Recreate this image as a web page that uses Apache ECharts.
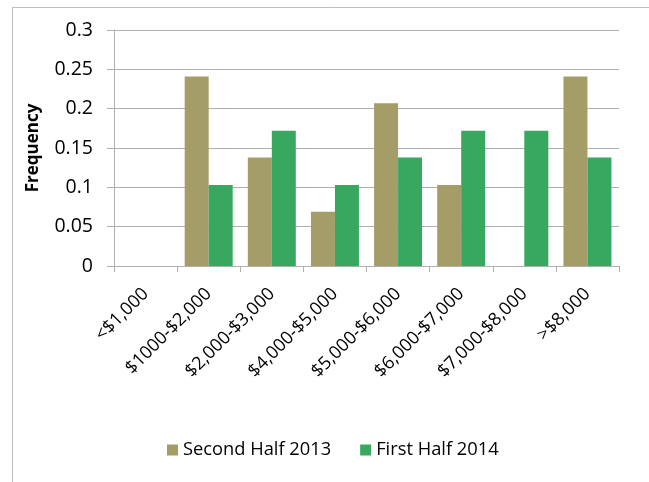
<!DOCTYPE html>
<html><head><meta charset="utf-8">
<script src="https://cdn.jsdelivr.net/npm/echarts@6/dist/echarts.min.js"></script>
<style>html,body{margin:0;padding:0;background:#fff}#c{width:649px;height:482px}</style>
</head><body><div id="c"></div>
<script>
const categories = ['<$1,000','$1000-$2,000','$2,000-$3,000','$4,000-$5,000','$5,000-$6,000','$6,000-$7,000','$7,000-$8,000','>$8,000'];
const secondHalf2013 = [0, 0.241, 0.138, 0.069, 0.207, 0.103, 0, 0.241];
const firstHalf2014 = [0, 0.103, 0.172, 0.103, 0.138, 0.172, 0.172, 0.138];
const yTicks = [0, 0.05, 0.1, 0.15, 0.2, 0.25, 0.3];

const font = 'Open Sans';
const chart = echarts.init(document.getElementById('c'));
chart.setOption({
  animation: false,
  textStyle: {fontFamily: font},
  graphic: [{type:'rect', shape:{x:12.5, y:7.5, width:700, height:600}, style:{fill:'none', stroke:'#bdbdbd', lineWidth:1}, silent:true}],
  grid: {left:114, right:30, top:30, bottom:216, containLabel:false},
  legend: {
    top: 441, left: 167, padding: 0,
    itemWidth: 11, itemHeight: 11, itemGap: 29,
    icon: 'rect',
    textStyle: {fontFamily: font, fontSize: 18.3, color:'#000', padding:[0,0,0,0]},
    data: ['Second Half 2013','First Half 2014']
  },
  xAxis: {
    type:'category', data: categories,
    axisLine:{lineStyle:{color:'#b0b0b0', width:1}},
    axisTick:{show:true, length:6, lineStyle:{color:'#b0b0b0'}},
    axisLabel:{rotate:45, margin:25, fontSize:18, color:'#000', fontFamily:font, interval:0}
  },
  yAxis: {
    type:'value', min:0, max:0.3, interval:0.05,
    name:'Frequency', nameLocation:'middle', nameGap:72, nameRotate:90,
    nameTextStyle:{fontWeight:'bold', fontSize:17, color:'#000', fontFamily:font},
    axisLine:{show:true, lineStyle:{color:'#b0b0b0', width:1}},
    axisTick:{show:true, length:7, lineStyle:{color:'#b0b0b0'}},
    splitLine:{lineStyle:{color:'#b0b0b0', width:1}},
    axisLabel:{margin:21, fontSize:19.5, color:'#000', fontFamily:font,
      formatter: v => { const t = yTicks.find(x => Math.abs(x - v) < 1e-9); return String(t !== undefined ? t : v); }}
  },
  series: [
    {name:'Second Half 2013', type:'bar', data: secondHalf2013, barGap:'0%', barCategoryGap:'24%',
     itemStyle:{color:'#a59d68'}},
    {name:'First Half 2014', type:'bar', data: firstHalf2014, barGap:'0%', barCategoryGap:'24%',
     itemStyle:{color:'#38a860'}}
  ]
});
</script></body></html>
